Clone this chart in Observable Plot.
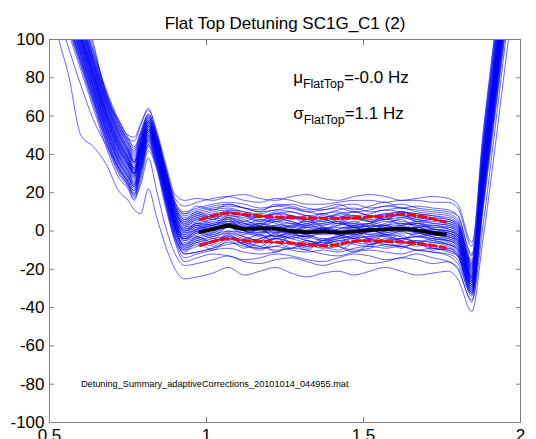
<!DOCTYPE html>
<html><head><meta charset="utf-8">
<script src="https://cdn.jsdelivr.net/npm/d3@7"></script>
<script src="https://cdn.jsdelivr.net/npm/@observablehq/plot@0.6"></script>
<style>
html,body{margin:0;padding:0;background:#fff;}
#chart svg{display:block;}
</style></head><body><div id="chart"></div>
<script>
const titleText = "Flat Top Detuning SC1G_C1 (2)";
const fileName = "Detuning_Summary_adaptiveCorrections_20101014_044955.mat";
const fileX = [0.6];
const fileY = [-81.7];

const xGrid = [0.50,0.53,0.56,0.60,0.64,0.68,0.72,0.75,0.77,0.79,0.815,0.84,0.87,0.90,0.93,0.97,1.02,1.07,1.12,1.17,1.22,1.27,1.32,1.37,1.42,1.47,1.52,1.57,1.62,1.67,1.72,1.77,1.80,1.845,1.88,1.92,1.96,2.00];

const trace01 = [125,100,82,50,44,35,21,16, 11,9,22,8,-8,-20, -25,-24,-22,-19,-23,-21,-19,-22,-24,-22,-21,-23,-21,-19,-21,-23,-22,-21, -25,-42,-5,45,98,150];
const trace02 = [135,112,96,76,58,45,33,25, 18,24,38,22,2,-12, -18,-17,-15,-13,-16,-17,-15,-14,-16,-18,-16,-15,-17,-16,-14,-15,-17,-16, -20,-36,2,55,110,165];
const trace03 = [140,125,108,88,68,48,32,24, 19,28,44,34,14,-6, -16,-14,-12,-13,-15,-14,-12,-13,-15,-16,-14,-12,-13,-15,-14,-12,-14,-16, -19,-37,10,62,115,170];
const trace04 = [136,121,104,84,64,44,28,22, 16,26,42,33,12,-5, -14,-12,-10,-9,-11,-12,-11,-9,-10,-12,-13,-11,-10,-11,-12,-10,-11,-13, -17,-33,18,70,122,176];
const trace05 = [144,129,112,92,72,52,36,28, 24,33,48,38,18,-2, -12,-11,-9,-6,-8,-9,-8,-10,-11,-10,-11,-9,-8,-9,-8,-10,-11,-12, -15,-34,12,64,116,170];
const trace06 = [138,123,106,86,66,46,30,23, 17,30,45,35,15,-4, -12,-11,-9,-7,-6,-8,-10,-9,-7,-6,-8,-10,-9,-7,-8,-10,-9,-11, -13,-30,22,75,128,182];
const trace07 = [147,132,115,95,75,55,39,31, 25,36,50,40,20,0, -10,-8,-5,-4,-7,-9,-8,-6,-7,-9,-8,-6,-5,-7,-8,-7,-9,-10, -13,-32,15,68,120,175];
const trace08 = [142,127,110,90,70,50,34,26, 21,32,47,37,17,-1, -9,-7,-6,-3,-5,-6,-4,-6,-8,-7,-5,-6,-7,-5,-4,-6,-8,-9, -12,-31,20,73,126,180];
const trace09 = [150,135,118,98,78,58,42,34, 29,40,52,42,22,2, -8,-6,-4,-3,-5,-4,-2,-4,-6,-7,-5,-4,-3,-5,-6,-5,-6,-8, -11,-30,16,70,124,178];
const trace10 = [145,130,113,93,73,53,37,29, 23,35,49,39,19,1, -7,-5,-3,-1,-3,-5,-4,-3,-5,-6,-4,-3,-4,-6,-4,-3,-5,-7, -10,-28,24,78,132,186];
const trace11 = [154,139,122,102,82,62,46,37, 31,42,54,44,24,4, -6,-4,-2,0,-1,-3,-4,-2,-3,-5,-4,-2,-1,-3,-4,-3,-4,-6, -9,-29,19,72,126,180];
const trace12 = [148,133,116,96,76,56,40,32, 27,38,51,41,21,2, -5,-3,-1,2,0,-2,-3,-1,-2,-4,-3,-1,-2,-3,-1,-2,-4,-5, -8,-27,26,80,134,188];
const trace13 = [156,141,124,104,84,64,48,39, 33,44,55,45,25,5, -4,-2,1,2,0,-1,0,-2,-3,-1,0,-2,-3,-1,0,-1,-3,-4, -7,-26,21,74,128,182];
const trace14 = [146,131,114,94,74,54,38,30, 25,37,50,40,20,3, -4,-1,1,3,2,0,-1,1,0,-2,-1,1,0,-1,1,0,-2,-3, -6,-27,28,82,136,190];
const trace15 = [152,137,120,100,80,60,44,35, 29,41,53,43,23,5, -3,0,2,3,1,2,0,-1,0,1,-1,-2,0,1,2,1,-1,-2, -5,-25,23,77,130,184];
const trace16 = [158,143,126,106,86,66,50,41, 35,45,56,46,26,6, -2,1,3,4,2,0,1,2,0,-1,1,2,1,0,2,1,0,-1, -4,-24,30,84,138,192];
const trace17 = [149,134,117,97,77,57,41,33, 28,39,52,42,23,6, -1,1,3,5,3,1,2,3,1,0,2,1,3,2,1,2,0,-1, -4,-25,25,79,133,187];
const trace18 = [155,140,123,103,83,63,47,38, 32,43,55,45,26,8, 0,2,4,5,4,2,3,4,2,1,3,4,2,3,4,3,1,0, -3,-23,31,86,140,194];
const trace19 = [160,145,128,108,88,68,52,43, 37,47,58,48,28,9, 1,3,5,6,4,3,5,4,2,3,4,2,3,5,4,3,2,1, -2,-24,27,81,135,190];
const trace20 = [151,136,119,99,79,59,43,35, 30,41,53,43,25,8, 2,4,6,7,5,4,6,5,3,4,5,3,4,6,5,4,3,2, -1,-22,33,88,142,196];
const trace21 = [157,142,125,105,85,65,49,40, 34,45,56,46,28,10, 3,5,7,8,7,5,6,7,5,4,6,7,5,6,7,5,4,3, 0,-21,29,84,138,192];
const trace22 = [162,147,130,110,90,70,54,45, 39,48,59,49,30,11, 4,6,8,9,8,6,7,8,6,5,7,8,6,7,8,6,5,4, 1,-20,35,90,145,200];
const trace23 = [153,138,121,101,81,61,45,36, 31,42,54,44,27,10, 5,7,9,10,8,7,9,8,6,7,8,6,7,9,8,7,6,5, 2,-19,32,87,142,196];
const trace24 = [159,144,127,107,87,67,51,42, 36,46,57,47,29,12, 6,8,10,11,10,8,9,10,8,7,9,10,8,9,10,8,7,6, 3,-18,36,92,146,200];
const trace25 = [164,149,132,112,92,72,56,47, 41,50,60,50,31,13, 7,9,11,12,10,9,11,10,8,9,10,8,9,11,10,9,8,7, 4,-17,38,94,150,205];
const trace26 = [156,141,124,104,84,64,48,39, 33,44,55,46,29,13, 8,10,12,13,12,10,11,12,10,9,11,12,10,11,12,10,9,8, 5,-16,40,96,152,208];
const trace27 = [166,151,134,114,94,74,58,49, 43,52,61,51,32,14, 9,11,13,14,12,11,13,12,10,11,12,10,11,13,12,11,10,9, 6,-15,42,98,155,210];
const trace28 = [162,147,130,110,90,70,54,46, 42,50,60,50,32,15, 10,12,14,15,14,12,13,14,12,11,13,14,12,13,14,12,11,10, 8,-12,44,100,156,212];
const trace29 = [170,155,138,118,98,70,58,50, 49,56,64,52,33,17, 13,15,17,18,16,15,17,16,14,14,15,16,16,15,16,16,15,15, 12,-8,48,104,160,215];
const trace30 = [168,153,136,116,96,72,56,48, 47,55,63,53,35,19, 16,17,16,18,19,17,16,18,19,17,16,18,19,18,16,17,18,17, 14,-6,50,106,162,218];
const trace31 = [141,126,109,89,69,49,33,25, 20,31,46,36,16,-3, -11,-6,-10,-5,-9,-6,-11,-7,-10,-5,-8,-11,-7,-5,-9,-6,-10,-9, -12,-33,14,66,118,172];
const trace32 = [153,138,121,101,81,61,45,37, 30,40,53,44,23,2, -9,-4,-7,-2,-6,-8,-4,-6,-9,-5,-3,-7,-8,-4,-5,-8,-6,-7, -10,-31,18,71,124,178];
const trace33 = [143,128,111,91,71,51,35,27, 22,34,48,38,18,0, -7,-3,-6,-1,-4,-2,-6,-3,-5,-7,-2,-4,-6,-2,-3,-6,-4,-5, -8,-29,21,75,129,183];
const trace34 = [160,145,128,108,88,68,52,43, 36,46,57,47,27,6, -5,-1,-4,0,-3,-5,-1,-4,-2,-5,-3,0,-4,-2,-5,-1,-3,-5, -7,-28,24,78,132,186];
const trace35 = [147,132,115,95,75,55,39,31, 26,38,51,41,21,3, -4,0,-3,2,-2,1,-3,-1,-4,0,-2,-4,1,-2,0,-3,-2,-4, -6,-26,27,81,135,189];
const trace36 = [155,140,123,103,83,63,47,38, 32,43,55,45,25,5, -3,1,-1,3,0,-2,2,-1,-3,1,-1,2,-2,0,2,-1,-2,-3, -5,-26,22,76,130,184];
const trace37 = [144,129,112,92,72,52,36,28, 23,35,49,39,20,4, -2,2,0,4,1,3,-1,1,-2,2,0,-1,2,3,0,2,-1,-2, -4,-25,29,83,137,191];
const trace38 = [151,136,119,99,79,59,43,35, 30,41,53,43,24,6, -1,3,0,4,2,-1,3,0,2,-1,1,3,0,2,3,0,1,-1, -3,-24,26,80,134,188];
const trace39 = [159,144,127,107,87,67,51,42, 36,46,57,47,27,8, 0,4,2,6,1,4,2,0,3,1,4,2,0,3,1,4,1,0, -2,-23,32,86,140,195];
const trace40 = [148,133,116,96,76,56,40,32, 28,39,52,42,24,7, 1,4,3,7,4,1,5,2,4,1,3,5,2,4,6,2,3,1, -1,-22,28,82,136,190];
const trace41 = [154,139,122,102,82,62,46,38, 32,43,55,45,26,9, 2,6,3,7,3,6,4,2,6,3,5,2,4,7,3,5,2,2, 0,-21,34,89,143,197];
const trace42 = [161,146,129,109,89,69,53,44, 38,48,58,48,29,11, 3,7,4,8,6,3,7,5,3,6,4,7,5,3,7,6,4,3, 1,-20,30,85,139,193];
const trace43 = [150,135,118,98,78,58,42,34, 30,41,53,43,26,10, 4,8,6,10,5,8,5,7,4,8,6,4,8,6,9,5,6,4, 2,-19,36,91,146,200];
const trace44 = [158,143,126,106,86,66,50,41, 36,46,57,47,29,12, 5,9,6,10,8,5,9,6,8,5,9,7,5,8,10,7,6,5, 3,-18,33,88,143,198];
const trace45 = [163,148,131,111,91,71,55,46, 40,49,59,49,31,13, 6,10,7,11,9,7,10,8,6,9,7,10,8,6,10,9,8,6, 4,-17,39,95,150,205];
const trace46 = [139,124,107,87,67,47,31,24, 19,30,45,35,15,-3, -10,-5,-8,-4,-7,-10,-6,-9,-5,-8,-10,-6,-4,-8,-7,-5,-9,-10, -13,-32,17,70,123,177];
const trace47 = [152,137,120,100,80,60,44,36, 30,41,53,43,22,2, -8,-3,-6,-2,-7,-4,-2,-6,-8,-4,-6,-3,-7,-5,-2,-6,-5,-7, -9,-29,23,77,131,185];
const trace48 = [141,126,109,89,69,49,33,26, 21,33,47,37,18,2, -4,0,-2,2,-1,1,-3,0,-1,2,-2,0,1,-2,0,2,-1,-3, -5,-27,25,79,133,187];
const trace49 = [145,130,113,93,73,53,37,29, 24,36,50,40,22,6, 0,3,1,5,2,4,1,3,5,2,0,3,4,1,3,4,1,0, -2,-24,30,84,138,192];
const trace50 = [165,150,133,113,93,73,57,48, 44,51,61,51,33,15, 9,13,11,14,12,10,14,13,11,12,14,11,13,15,12,13,12,11, 8,-13,45,101,157,212];

const meanX  = [0.98,1.02,1.07,1.12,1.17,1.22,1.27,1.32,1.37,1.42,1.47,1.52,1.57,1.62,1.67,1.72,1.76];
const meanY  = [-0.6,1.0,2.8,1.0,1.5,1.2,0.0,-0.6,-0.3,-0.8,-0.3,0.4,0.8,1.2,0.3,-1.0,-1.8];
const upperY = [6.0,8.0,9.3,8.6,8.0,7.3,7.0,6.8,6.6,6.5,6.9,7.3,7.9,8.6,8.0,6.4,4.6];
const lowerY = [-7.6,-5.5,-4.0,-5.0,-5.4,-5.8,-6.3,-7.0,-7.8,-7.0,-5.3,-5.0,-5.4,-5.8,-6.6,-7.6,-8.7];

const xTicks = [0.5, 1, 1.5, 2];
const xTickLabels = ["0.5", "1", "1.5", "2"];
const yTicks = [-100, -80, -60, -40, -20, 0, 20, 40, 60, 80, 100];
const yTickLabels = ["-100", "-80", "-60", "-40", "-20", "0", "20", "40", "60", "80", "100"];

const annoSym  = ["μ", "σ"];
const annoSub  = ["FlatTop", "FlatTop"];
const annoRest = ["=-0.0 Hz", "=1.1 Hz"];
const annoX    = [1.276, 1.276];
const annoY    = [77.5, 58.7];

const traces = [trace01,trace02,trace03,trace04,trace05,trace06,trace07,trace08,trace09,trace10,
  trace11,trace12,trace13,trace14,trace15,trace16,trace17,trace18,trace19,trace20,
  trace21,trace22,trace23,trace24,trace25,trace26,trace27,trace28,trace29,trace30,
  trace31,trace32,trace33,trace34,trace35,trace36,trace37,trace38,trace39,trace40,
  trace41,trace42,trace43,trace44,trace45,trace46,trace47,trace48,trace49,trace50];
const rows = [];
traces.forEach((t, k) => t.forEach((v, i) => rows.push({trace: k, x: xGrid[i], y: v})));
const meanRows = meanX.map((x, i) => ({x, y: meanY[i]}));
const upperRows = meanX.map((x, i) => ({x, y: upperY[i]}));
const lowerRows = meanX.map((x, i) => ({x, y: lowerY[i]}));
const annoRows = annoSym.map((s, i) => ({x: annoX[i], y: annoY[i], label: s + annoSub[i] + annoRest[i]}));

const gray = "#7f7f7f";
const chart = Plot.plot({
  width: 536, height: 439,
  marginLeft: 49, marginRight: 16, marginTop: 39, marginBottom: 17,
  x: {domain: [0.5, 2], label: null},
  y: {domain: [-100, 100], label: null},
  style: {fontFamily: "'Liberation Sans', Arial, sans-serif", fontSize: "17px", color: "black", background: "white"},
  marks: [
    Plot.line(rows, {x: "x", y: "y", z: "trace", stroke: "#0000ff", strokeWidth: 0.8, strokeOpacity: 0.75, curve: "monotone-x", clip: true}),
    Plot.line(upperRows, {x: "x", y: "y", stroke: "#ff0000", strokeWidth: 3, strokeDasharray: "7,4", curve: "monotone-x"}),
    Plot.line(lowerRows, {x: "x", y: "y", stroke: "#ff0000", strokeWidth: 3, strokeDasharray: "7,4", curve: "monotone-x"}),
    Plot.line(meanRows, {x: "x", y: "y", stroke: "black", strokeWidth: 3.8, curve: "monotone-x"}),
    Plot.frame({stroke: gray}),
    Plot.axisY(yTicks, {anchor: "left", tickSize: -5, tickFormat: () => "", stroke: gray, label: null}),
    Plot.axisY(yTicks, {anchor: "right", tickSize: -5, tickFormat: () => "", stroke: gray, label: null}),
    Plot.axisX(xTicks, {anchor: "top", tickSize: -5, tickFormat: () => "", stroke: gray, label: null}),
    Plot.axisX(xTicks, {anchor: "bottom", tickSize: -5, tickFormat: () => "", stroke: gray, label: null}),
    Plot.axisY(yTicks, {anchor: "left", tickSize: 0, tickPadding: 5, fontSize: 17, fill: "black", label: null,
      tickFormat: d => yTickLabels[yTicks.indexOf(d)]}),
    Plot.axisX(xTicks, {anchor: "bottom", tickSize: 0, tickPadding: 6, fontSize: 17, fill: "black", label: null,
      tickFormat: d => xTickLabels[xTicks.indexOf(d)]}),
    Plot.text([titleText], {frameAnchor: "top", dy: -11, lineAnchor: "bottom", fontSize: 17, fill: "black"}),
    Plot.text(annoRows, {x: "x", y: "y", text: "label", textAnchor: "start", lineAnchor: "bottom", fontSize: 17, fill: "black"}),
    Plot.text([fileName], {x: fileX, y: fileY, textAnchor: "start", lineAnchor: "bottom", fontSize: 9.2, fill: "black"})
  ]
});
document.getElementById("chart").appendChild(chart);

// render subscripts as real tspans
d3.select(chart).selectAll("text").each(function() {
  const i = annoRows.findIndex(r => r.label === this.textContent);
  if (i < 0) return;
  const t = d3.select(this);
  t.text(null);
  t.append("tspan").text(annoSym[i]);
  t.append("tspan").attr("font-size", 12.5).attr("dy", 5).text(annoSub[i]);
  t.append("tspan").attr("dy", -5).text(annoRest[i]);
});
</script>
</body></html>
